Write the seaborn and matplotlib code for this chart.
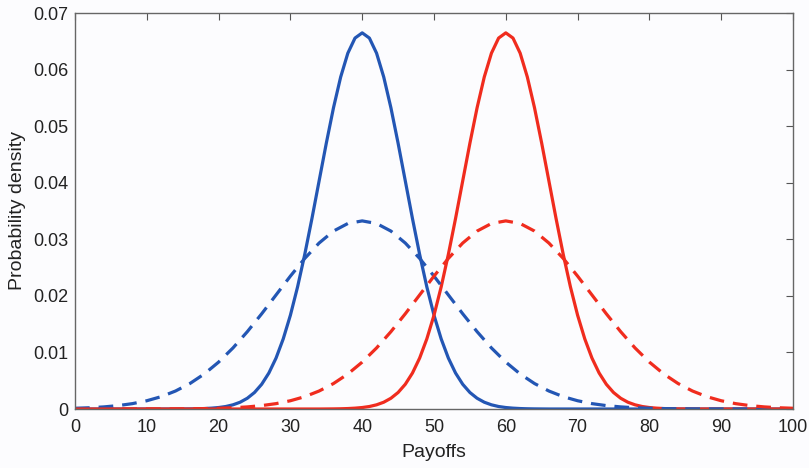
import matplotlib
matplotlib.use("Agg")
import matplotlib.pyplot as plt
import seaborn as sns
import pandas as pd
import numpy as np

# Payoff grid (read at every unit for the narrow curves, every 2 units for the wide ones)
x_fine = list(range(0, 101))
x_coarse = list(range(0, 101, 2))

# Blue solid curve (narrow, centred at 40), read at x = 0..100
blue_solid = ([0.0] * 15 +
              [0.00001, 0.00002, 0.00004, 0.00008, 0.00015, 0.00026, 0.00044, 0.00074,
               0.00120, 0.00190, 0.00292, 0.00437, 0.00636, 0.00900, 0.01239, 0.01658,
               0.02159, 0.02733, 0.03367, 0.04033, 0.04698, 0.05324, 0.05868, 0.06290,
               0.06557, 0.06649,
               0.06557, 0.06290, 0.05868, 0.05324, 0.04698, 0.04033, 0.03367, 0.02733,
               0.02159, 0.01658, 0.01239, 0.00900, 0.00636, 0.00437, 0.00292, 0.00190,
               0.00120, 0.00074, 0.00044, 0.00026, 0.00015, 0.00008, 0.00004, 0.00002,
               0.00001] +
              [0.0] * 35)

# Red solid curve (narrow, centred at 60), read at x = 0..100
red_solid = ([0.0] * 35 +
             [0.00001, 0.00002, 0.00004, 0.00008, 0.00015, 0.00026, 0.00044, 0.00074,
              0.00120, 0.00190, 0.00292, 0.00437, 0.00636, 0.00900, 0.01239, 0.01658,
              0.02159, 0.02733, 0.03367, 0.04033, 0.04698, 0.05324, 0.05868, 0.06290,
              0.06557, 0.06649,
              0.06557, 0.06290, 0.05868, 0.05324, 0.04698, 0.04033, 0.03367, 0.02733,
              0.02159, 0.01658, 0.01239, 0.00900, 0.00636, 0.00437, 0.00292, 0.00190,
              0.00120, 0.00074, 0.00044, 0.00026, 0.00015, 0.00008, 0.00004, 0.00002,
              0.00001] +
             [0.0] * 15)

# Blue dashed curve (wide, centred at 40), read at x = 0,2,...,100
blue_dashed = [0.00013, 0.00022, 0.00037, 0.00060, 0.00095, 0.00146, 0.00218, 0.00318,
               0.00450, 0.00619, 0.00829, 0.01079, 0.01367, 0.01683, 0.02016, 0.02349,
               0.02662, 0.02934, 0.03145, 0.03279, 0.03325,
               0.03279, 0.03145, 0.02934, 0.02662, 0.02349, 0.02016, 0.01683, 0.01367,
               0.01079, 0.00829, 0.00619, 0.00450, 0.00318, 0.00218, 0.00146, 0.00095,
               0.00060, 0.00037, 0.00022, 0.00013,
               0.00007, 0.00004, 0.00002, 0.00001, 0.00001, 0.0, 0.0, 0.0, 0.0, 0.0]

# Red dashed curve (wide, centred at 60), read at x = 0,2,...,100
red_dashed = [0.0, 0.0, 0.0, 0.0, 0.0, 0.00001, 0.00001, 0.00002, 0.00004, 0.00007,
              0.00013, 0.00022, 0.00037, 0.00060, 0.00095, 0.00146, 0.00218, 0.00318,
              0.00450, 0.00619, 0.00829, 0.01079, 0.01367, 0.01683, 0.02016, 0.02349,
              0.02662, 0.02934, 0.03145, 0.03279, 0.03325,
              0.03279, 0.03145, 0.02934, 0.02662, 0.02349, 0.02016, 0.01683, 0.01367,
              0.01079, 0.00829, 0.00619, 0.00450, 0.00318, 0.00218, 0.00146, 0.00095,
              0.00060, 0.00037, 0.00022, 0.00013]

x_ticks = [0, 10, 20, 30, 40, 50, 60, 70, 80, 90, 100]
y_ticks = [0, 0.01, 0.02, 0.03, 0.04, 0.05, 0.06, 0.07]
y_tick_labels = ["0", "0.01", "0.02", "0.03", "0.04", "0.05", "0.06", "0.07"]

BLUE = "#2356b4"
RED = "#f02c1e"

sns.set_theme(style="white")
plt.rcParams["font.family"] = ["Liberation Sans", "DejaVu Sans"]

fig = plt.figure(figsize=(8.09, 4.68), dpi=100, facecolor="#fcfcfe")
ax = fig.add_axes([75 / 809, 1 - 409 / 468, (793 - 75) / 809, (409 - 13) / 468])
ax.set_facecolor("#fcfcfe")

df_bs = pd.DataFrame({"x": x_fine, "y": blue_solid})
df_rs = pd.DataFrame({"x": x_fine, "y": red_solid})
df_bd = pd.DataFrame({"x": x_coarse, "y": blue_dashed})
df_rd = pd.DataFrame({"x": x_coarse, "y": red_dashed})

lw = 2.3
sns.lineplot(data=df_bs, x="x", y="y", ax=ax, color=BLUE, lw=lw)
sns.lineplot(data=df_rs, x="x", y="y", ax=ax, color=RED, lw=lw)
sns.lineplot(data=df_bd, x="x", y="y", ax=ax, color=BLUE, lw=lw)
sns.lineplot(data=df_rd, x="x", y="y", ax=ax, color=RED, lw=lw)
for ln in ax.lines:
    ln.set_solid_joinstyle("round")
for ln in ax.lines[2:]:
    ln.set_dashes([4.6, 2.8])

ax.set_xlim(0, 100)
ax.set_ylim(0, 0.07)
ax.set_xticks(x_ticks)
ax.set_yticks(y_ticks)
ax.set_yticklabels(y_tick_labels)
ax.tick_params(direction="in", length=5, width=0.8, color="#555555",
               top=True, right=True, labelsize=13, labelcolor="#222222")
ax.tick_params(axis="x", pad=7)
ax.tick_params(axis="y", pad=5)
for s in ax.spines.values():
    s.set_visible(True)
    s.set_color("#666666")
    s.set_linewidth(1.0)
ax.set_xlabel("Payoffs", fontsize=14, color="#222222", labelpad=6)
ax.set_ylabel("Probability density", fontsize=14, color="#222222", labelpad=5)

fig.savefig("out.png", dpi=100, facecolor=fig.get_facecolor())
